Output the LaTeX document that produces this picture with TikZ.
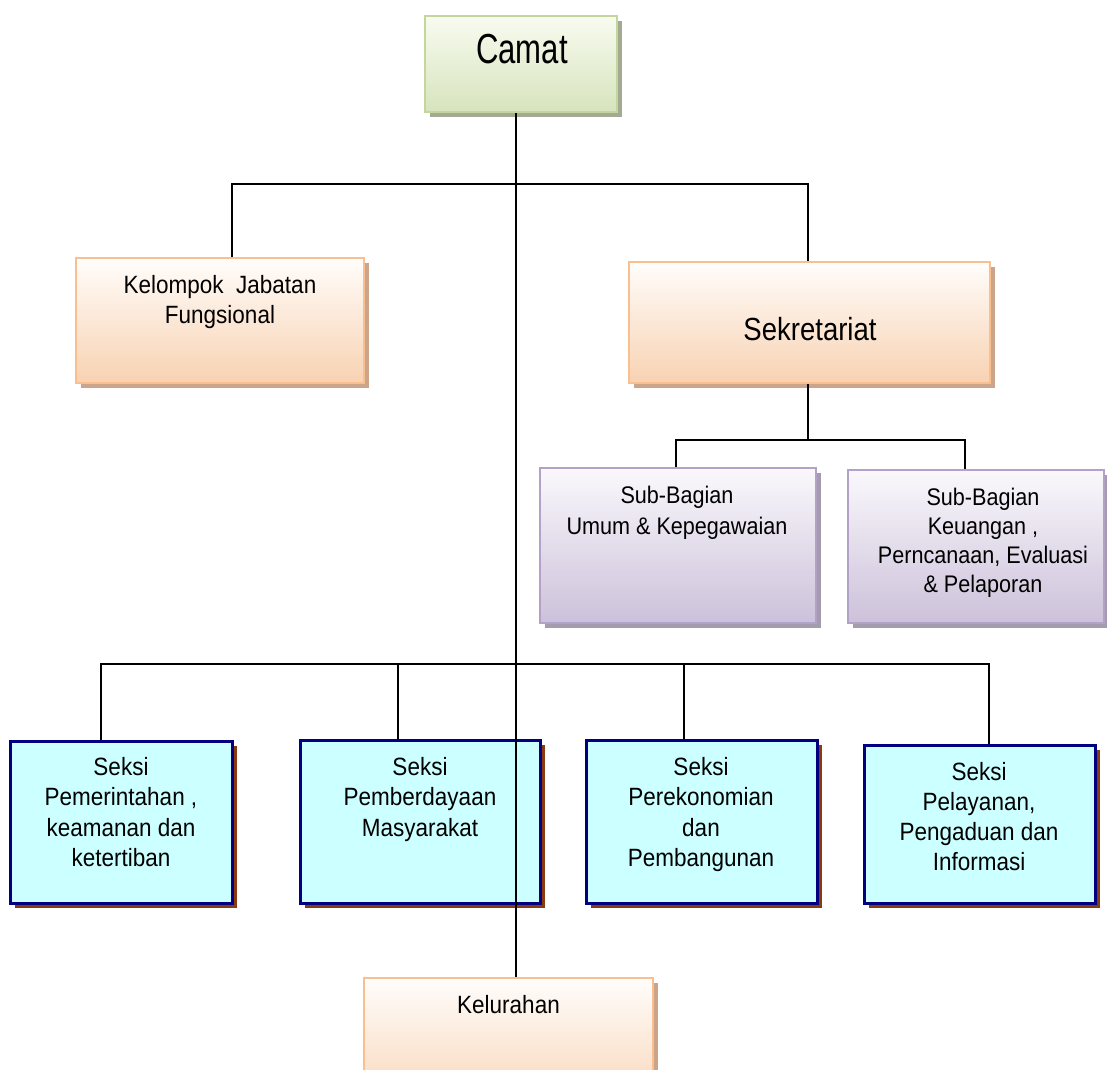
\documentclass[tikz,border=0pt]{standalone}
\usepackage{fontspec}
\setmainfont{Liberation Sans}[FakeStretch=0.9]
\newfontfamily\camatfont{Liberation Sans}[FakeStretch=0.74]
\newfontfamily\sekfont{Liberation Sans}[FakeStretch=0.86]
\usetikzlibrary{shadows}
\definecolor{orBorder}{HTML}{F9BF8F}
\definecolor{orTop}{HTML}{FFFDFB}
\definecolor{orBot}{HTML}{F8D2B2}
\definecolor{orShadow}{HTML}{CBA489}
\definecolor{grBorder}{HTML}{C3D69B}
\definecolor{grTop}{HTML}{F8FBF0}
\definecolor{grBot}{HTML}{D7E4BD}
\definecolor{grShadow}{HTML}{A3A993}
\definecolor{puBorder}{HTML}{B3A2C7}
\definecolor{puTop}{HTML}{FAF8FC}
\definecolor{puBot}{HTML}{CCC1DA}
\definecolor{puShadow}{HTML}{A49BAF}
\definecolor{skFill}{HTML}{CCFFFF}
\definecolor{skBorder}{HTML}{000080}
\definecolor{skShadow}{HTML}{8B3A0F}
\newcommand\boxlines[4]{\parbox[t]{#1pt}{\centering\fontsize{#2}{#3}\selectfont #4}}
\tikzset{
  box/.style={rectangle, inner sep=0pt, line width=2pt},
  orangebox/.style={box, draw=orBorder, top color=orTop, bottom color=orBot,
    drop shadow={shadow xshift=5pt, shadow yshift=-5pt, fill=orShadow, opacity=1}},
  greenbox/.style={box, draw=grBorder, top color=grTop, bottom color=grBot,
    drop shadow={shadow xshift=5pt, shadow yshift=-5pt, fill=grShadow, opacity=1}},
  purplebox/.style={box, draw=puBorder, top color=puTop, bottom color=puBot,
    drop shadow={shadow xshift=5pt, shadow yshift=-5pt, fill=puShadow, opacity=1}},
  seksibox/.style={box, draw=skBorder, fill=skFill, line width=3pt,
    drop shadow={shadow xshift=5pt, shadow yshift=-5pt, fill=skShadow, opacity=1}},
  conn/.style={draw=black, line width=1.8pt},
  txt/.style={anchor=base, inner sep=0pt},
}
\begin{document}
\begin{tikzpicture}[x=1pt, y=-1pt]
\clip (0,0) rectangle (1107,1069);
\fill[white] (0,0) rectangle (1107,1069);

% boxes
\node[greenbox, minimum width=192pt, minimum height=96pt] (camat) at (521,64) {};
\node[orangebox, minimum width=288pt, minimum height=125pt] (kjf) at (220,320.5) {};
\node[orangebox, minimum width=361pt, minimum height=121pt] (sek) at (809.5,322.5) {};
\node[purplebox, minimum width=276pt, minimum height=155pt] (sb1) at (678,545.5) {};
\node[purplebox, minimum width=256pt, minimum height=153pt] (sb2) at (976,546.5) {};
\node[seksibox, minimum width=222pt, minimum height=162pt] (s1) at (121,822) {};
\node[seksibox, minimum width=240pt, minimum height=163pt] (s2) at (420,821.5) {};
\node[seksibox, minimum width=231pt, minimum height=163pt] (s3) at (701.5,821.5) {};
\node[seksibox, minimum width=231pt, minimum height=158pt] (s4) at (979.5,824) {};
\node[orangebox, minimum width=289pt, minimum height=140pt] (kel) at (508.5,1048) {};

% texts
\node[txt] (camatt) at (522,63) {\camatfont\fontsize{42}{48}\selectfont Camat};
\node[txt] (kjft) at (220,293) {\boxlines{280}{25}{30}{Kelompok\ \ Jabatan\\Fungsional}};
\node[txt] (sekt) at (810,340) {\sekfont\fontsize{32}{38}\selectfont Sekretariat};
\node[txt] (sb1t) at (677,503) {\boxlines{270}{24}{31}{Sub-Bagian\\Umum \& Kepegawaian}};
\node[txt] (sb2t) at (983,505) {\boxlines{260}{24}{29}{Sub-Bagian\\Keuangan ,\\Perncanaan, Evaluasi\\\& Pelaporan}};
\node[txt] (s1t) at (121,775) {\boxlines{220}{25}{30.5}{Seksi\\Pemerintahan ,\\keamanan dan\\ketertiban}};
\node[txt] (s2t) at (420,775) {\boxlines{230}{25}{30.5}{Seksi\\Pemberdayaan\\Masyarakat}};
\node[txt] (s3t) at (701,775) {\boxlines{230}{25}{30.5}{Seksi\\Perekonomian\\dan\\Pembangunan}};
\node[txt] (s4t) at (979,780) {\boxlines{230}{25}{30}{Seksi\\Pelayanan,\\Pengaduan dan\\Informasi}};
\node[txt] (kelt) at (508.5,1013) {\boxlines{280}{25}{30}{Kelurahan}};

% connector coordinates
\coordinate (h1l) at (232,184);
\coordinate (h1r) at (808,184);
\coordinate (h2l) at (676,440);
\coordinate (h2r) at (965,440);
\coordinate (h3l) at (101,664);
\coordinate (h3r) at (989,664);
\coordinate (d2) at (398,664);
\coordinate (d3) at (684,664);
\coordinate (trunk) at (516,0);

% connectors
\draw[conn] (kjf.north -| h1l) -- (h1l) -- (h1r) -- (sek.north -| h1r);
\draw[conn] (sek.south -| h1r) -- (h1r |- h2l);
\draw[conn] (sb1.north -| h2l) -- (h2l) -- (h2r) -- (sb2.north -| h2r);
\draw[conn] (s1.north -| h3l) -- (h3l) -- (h3r) -- (s4.north -| h3r);
\draw[conn] (d2) -- (s2.north -| d2);
\draw[conn] (d3) -- (s3.north -| d3);
\draw[conn] (camat.south -| trunk) -- (kel.north -| trunk);
\end{tikzpicture}
\end{document}
